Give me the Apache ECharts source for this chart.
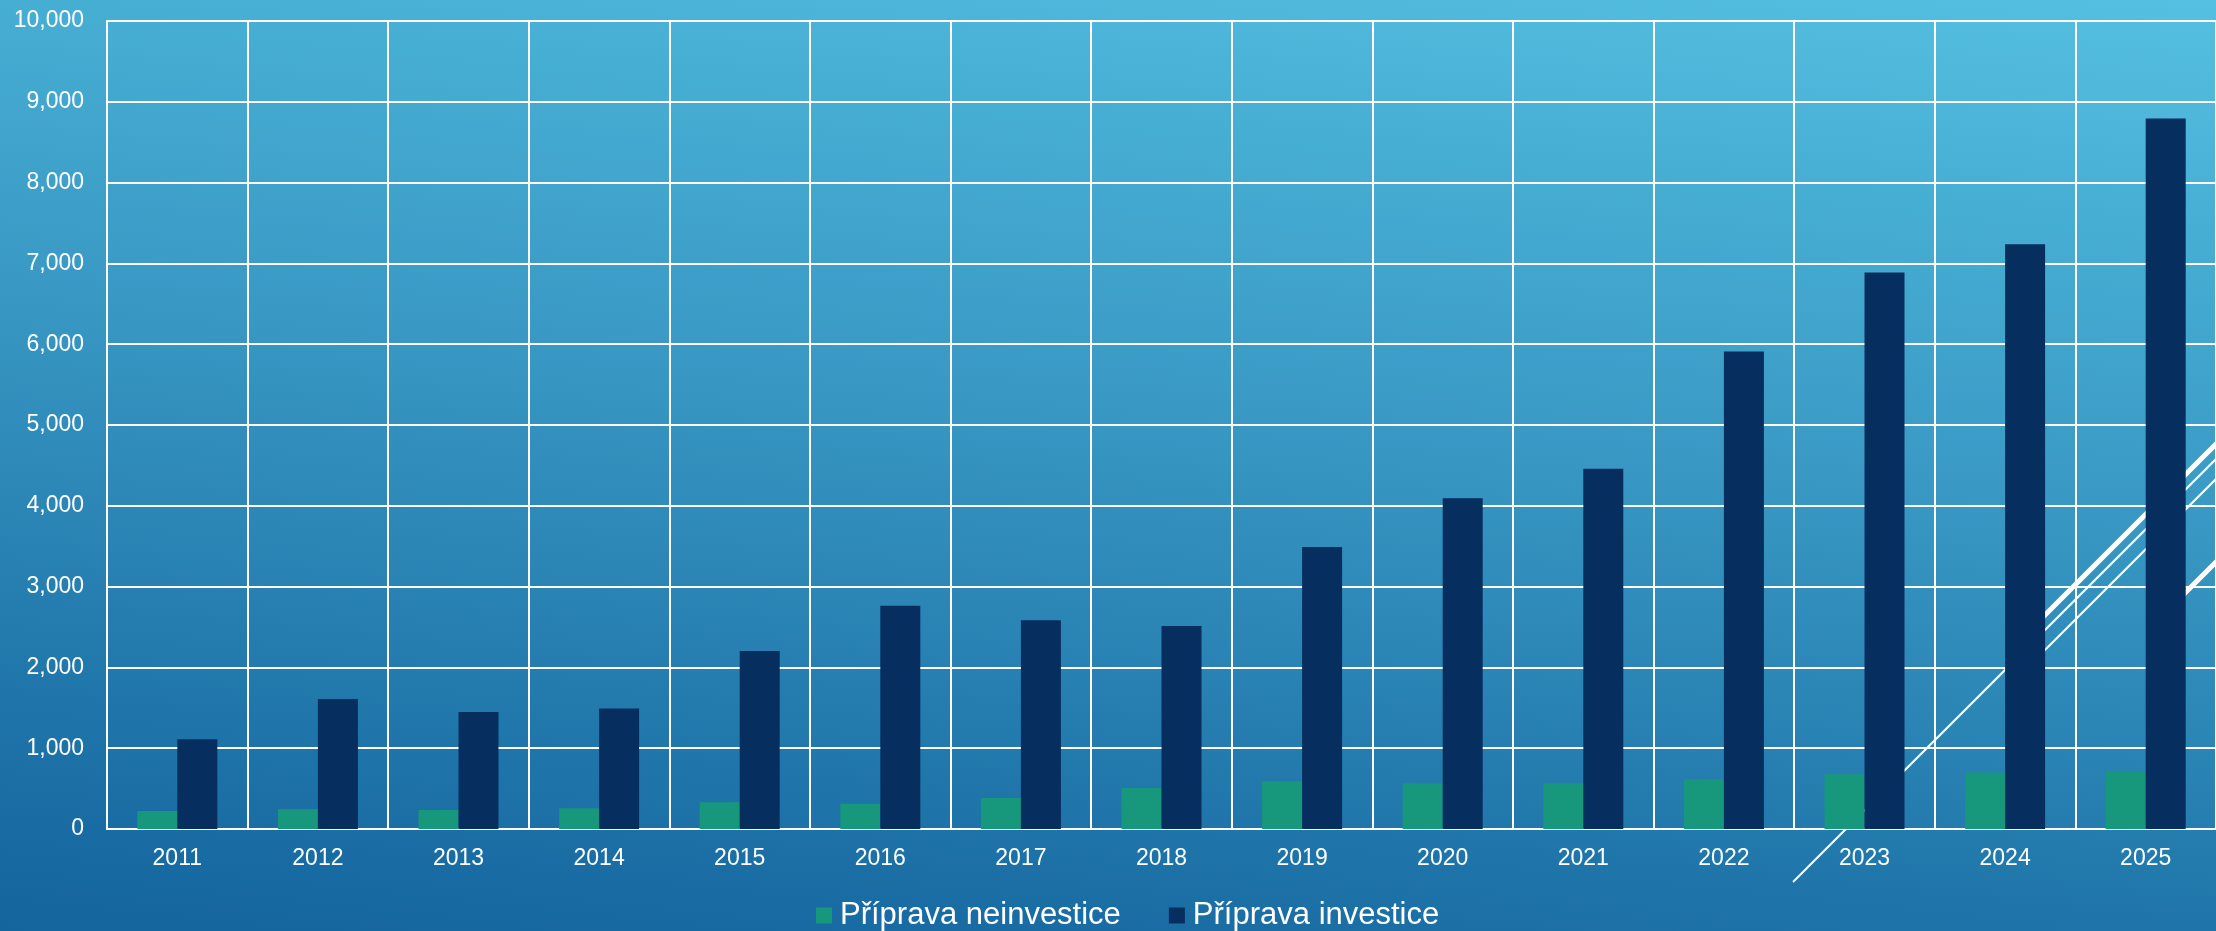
<!DOCTYPE html>
<html>
<head>
<meta charset="utf-8">
<script src="https://cdn.jsdelivr.net/npm/echarts@6/dist/echarts.min.js"></script>
<style>
html,body{margin:0;padding:0;width:2216px;height:931px;overflow:hidden;}
#chart{width:2216px;height:931px;}
</style>
</head>
<body>
<div id="chart"></div>
<script>
// ---- data ----
const years = ['2011','2012','2013','2014','2015','2016','2017','2018','2019','2020','2021','2022','2023','2024','2025'];
const seriesNames = ['Příprava neinvestice', 'Příprava investice'];
const neinvestice = [223, 244, 235, 256, 332, 314, 384, 508, 591, 566, 562, 616, 678, 699, 715];
const investice = [1111, 1608, 1449, 1491, 2203, 2762, 2582, 2512, 3491, 4094, 4458, 5909, 6888, 7238, 8794];
const yMin = 0, yMax = 10000, yStep = 1000;

const FONT = 'Liberation Sans';
const W = 2216, H = 931;

const chart = echarts.init(document.getElementById('chart'), null, {width: W, height: H});

// decorative slide lines (background ornament)
function deco(x1, y1, x2, y2, w, cap) {
  return {type: 'line', z: 1, silent: true,
    shape: {x1: x1, y1: y1, x2: x2, y2: y2},
    style: {stroke: '#ffffff', lineWidth: w, lineCap: cap || 'butt'}};
}

const option = {
  animation: false,
  graphic: [
    {type: 'rect', z: -10, silent: true, shape: {x: 0, y: 0, width: W, height: H},
      style: {fill: {type: 'linear', x: 1, y: 0, x2: 0.9454, y2: 1.236,
        colorStops: [
          {offset: 0, color: '#55c0e2'},
          {offset: 0.2, color: '#47aed3'},
          {offset: 0.43, color: '#3a9ac5'},
          {offset: 0.8, color: '#1f75a9'},
          {offset: 1, color: '#14649e'}
        ]}}},
    deco(1793, 882, 2266, 409, 2),
    deco(2030, 665, 2266, 429, 2),
    deco(2030, 630, 2266, 394, 5),
    deco(2152, 626, 2266, 512, 5, 'round')
  ],
  grid: {left: 107, top: 21, width: 2120, height: 808},
  legend: {
    left: 811, top: 895,
    icon: 'rect', itemWidth: 16, itemHeight: 16, itemGap: 48,
    textStyle: {color: '#ffffff', fontSize: 31, fontFamily: FONT, padding: [0, 0, 0, 3]},
    data: seriesNames
  },
  xAxis: {
    type: 'category', data: years,
    axisLine: {show: true, lineStyle: {color: '#ffffff', width: 2}},
    axisTick: {show: false},
    axisLabel: {color: '#ffffff', fontSize: 23, fontFamily: FONT, margin: 18, interval: 0},
    splitLine: {show: true, interval: 0, lineStyle: {color: '#ffffff', width: 2}}
  },
  yAxis: {
    type: 'value', min: yMin, max: yMax, interval: yStep,
    axisLine: {show: true, lineStyle: {color: '#ffffff', width: 2}},
    axisTick: {show: false},
    axisLabel: {color: '#ffffff', fontSize: 23, fontFamily: FONT, margin: 23,
      formatter: v => v.toLocaleString('en-US')},
    splitLine: {show: true, lineStyle: {color: '#ffffff', width: 2}}
  },
  series: [
    {name: seriesNames[0], type: 'bar', data: neinvestice, barWidth: 40, barGap: '0%',
      itemStyle: {color: '#17977b'}},
    {name: seriesNames[1], type: 'bar', data: investice, barWidth: 40, barGap: '0%',
      itemStyle: {color: '#062e5f'}}
  ]
};
chart.setOption(option);
</script>
</body>
</html>
